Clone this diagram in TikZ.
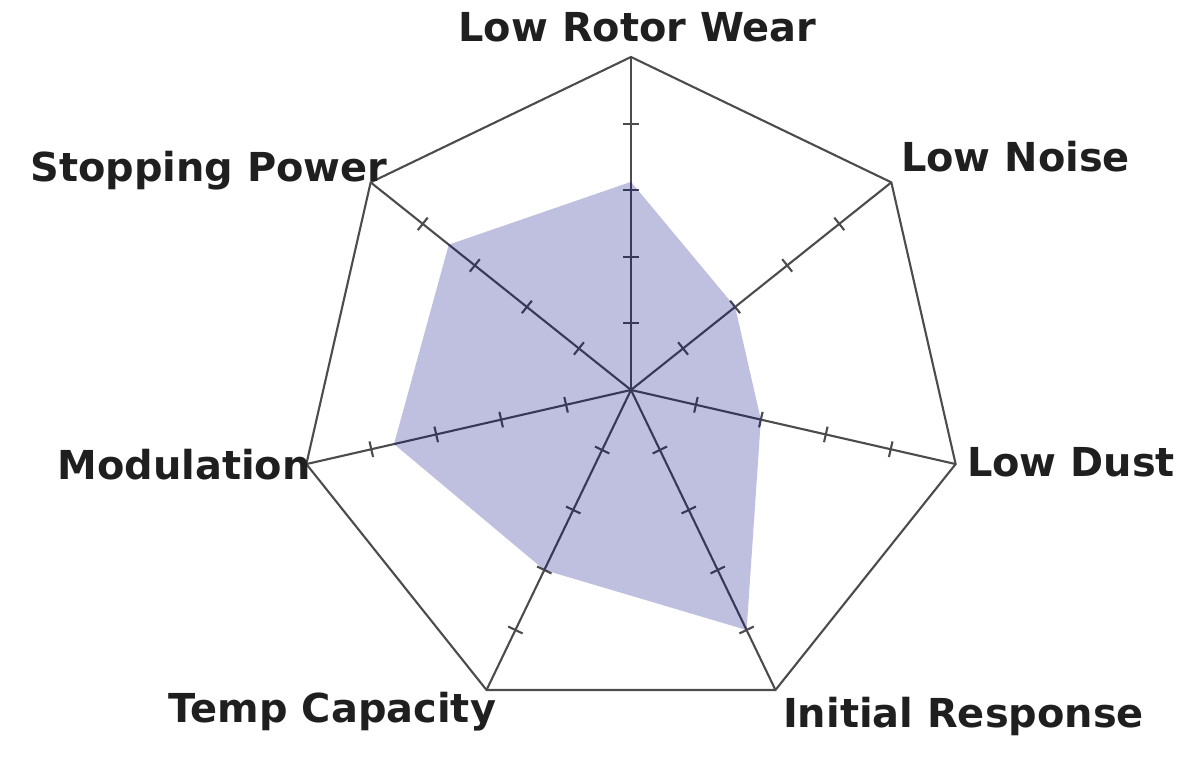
\documentclass[tikz,border=0pt]{standalone}
\usepackage{fontspec}
\setmainfont{DejaVu Sans}
\usetikzlibrary{calc, positioning}

\definecolor{scoreblue}{rgb}{0,0,0.5}
\tikzset{
    grid line/.style={draw=black!70, line width=0.6pt},
    axis label/.style={anchor=base, inner sep=0pt, text=black!88, font=\fontsize{11.35}{13}\selectfont\bfseries},
    score area/.style={fill=scoreblue, fill opacity=0.25},
}

\begin{document}
\begin{tikzpicture}
    \useasboundingbox (0,0) rectangle (12,7.63);
    \coordinate (c) at (6.31,3.73);

    % outer heptagon
    \foreach \i in {0,...,6} \coordinate (v\i) at ($(c)+(90-\i*360/7:3.33)$);
    \draw[grid line] (v0) -- (v1) -- (v2) -- (v3) -- (v4) -- (v5) -- (v6) -- cycle;

    % spokes and ticks
    \foreach \i in {0,...,6} {
        \draw[grid line] (c) -- (v\i);
        \foreach \t in {0.2,0.4,0.6,0.8}
            \draw[grid line] ($(c)!\t!(v\i)$) ++(-\i*360/7:0.08) -- ++(180-\i*360/7:0.16);
    }

    % scores
    \foreach \i/\s in {0/0.625, 1/0.4, 2/0.4, 3/0.8, 4/0.6, 5/0.73, 6/0.7}
        \coordinate (s\i) at ($(c)!\s!(v\i)$);
    \fill[score area] (s0) -- (s1) -- (s2) -- (s3) -- (s4) -- (s5) -- (s6) -- cycle;

    % labels
    \node[axis label] (wear)     at (6.375,7.21) {Low Rotor Wear};
    \node[axis label] (noise)    at (10.155,5.91) {Low Noise};
    \node[axis label] (dust)     at (10.71,2.86) {Low Dust};
    \node[axis label] (response) at (9.635,0.35) {Initial Response};
    \node[axis label] (temp)     at (3.325,0.40) {Temp Capacity};
    \node[axis label] (modul)    at (1.84,2.83) {Modulation};
    \node[axis label] (stopping) at (2.09,5.81) {Stopping Power};
\end{tikzpicture}
\end{document}
